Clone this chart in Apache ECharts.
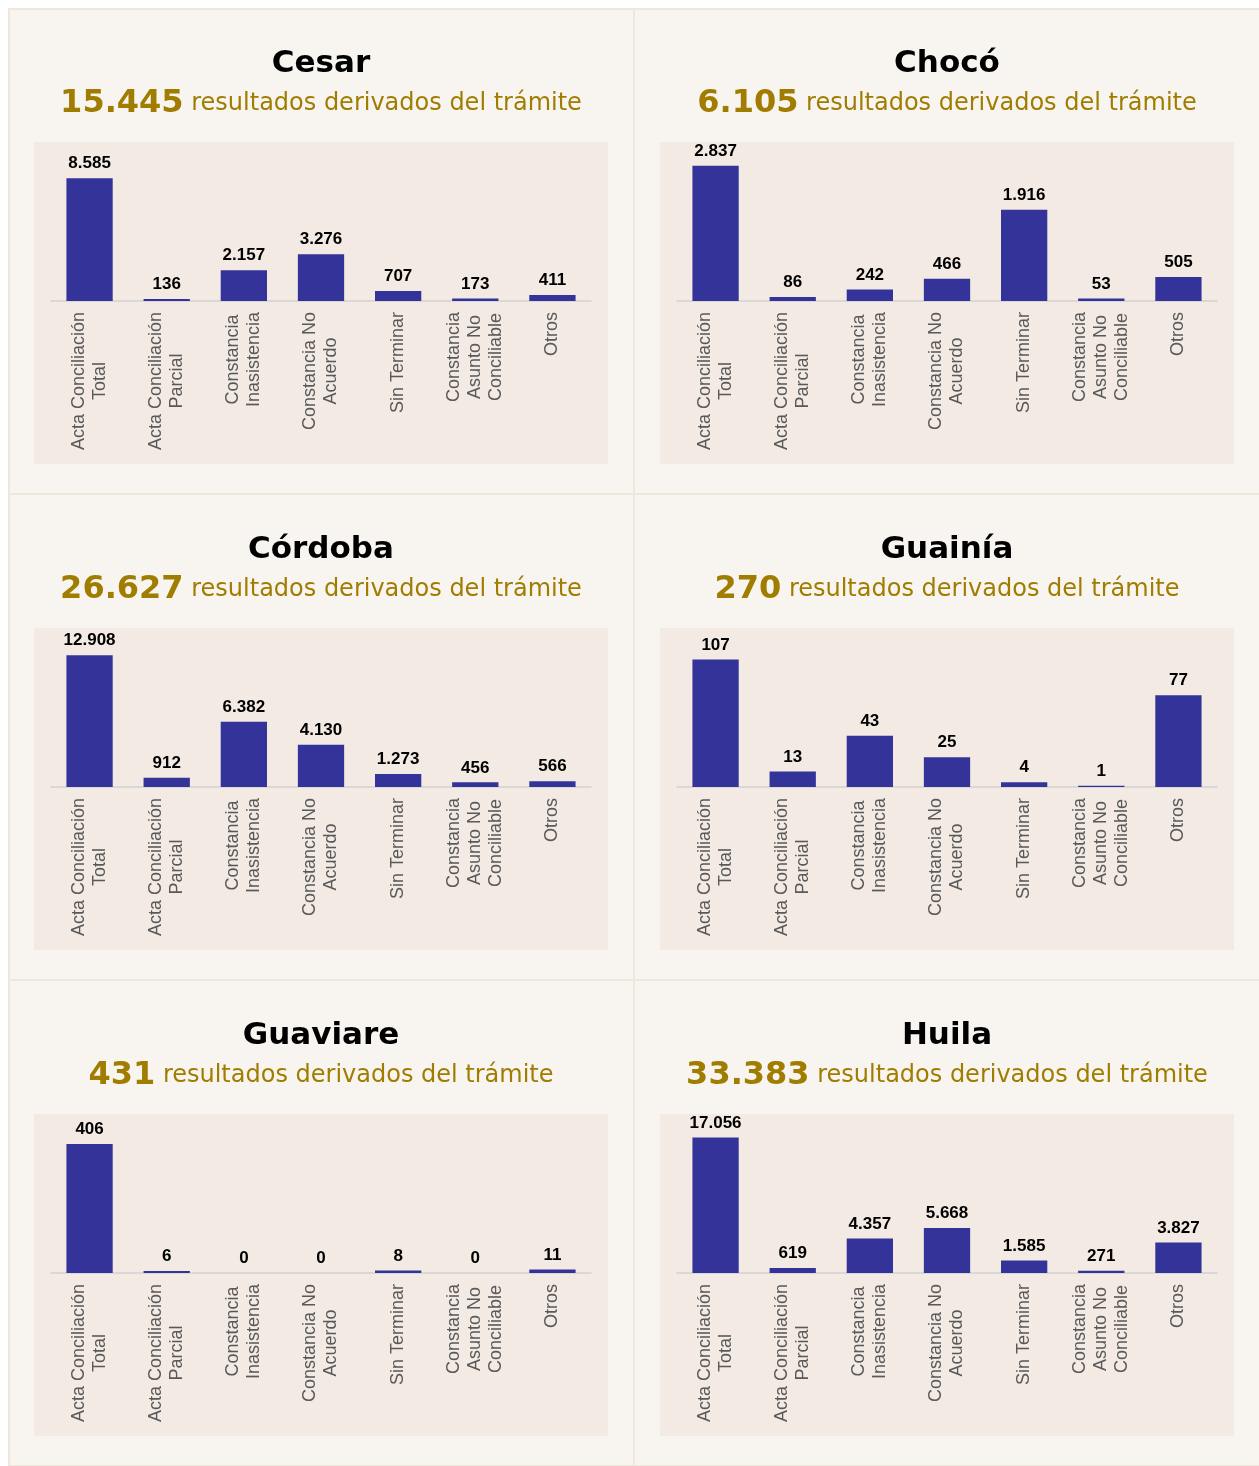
<!DOCTYPE html>
<html>
<head>
<meta charset="utf-8">
<script src="https://cdn.jsdelivr.net/npm/echarts@6/dist/echarts.min.js"></script>
<style>
body{margin:0;background:#fff;}
#page{position:absolute;left:8px;top:8px;width:1251px;height:1458px;background:#f8f5f0;
  border-top:2px solid #efe6dc;border-left:2px solid #efe6dc;box-sizing:border-box;}
.cell{position:absolute;border-right:2px solid #efe6dc;border-bottom:2px solid #efe6dc;box-sizing:border-box;}
.chart{position:absolute;}
</style>
</head>
<body>
<div id="page"></div>
<script>
// categorias comunes a todos los departamentos
const categories = [
    'Acta Conciliación\nTotal',
    'Acta Conciliación\nParcial',
    'Constancia\nInasistencia',
    'Constancia No\nAcuerdo',
    'Sin Terminar',
    'Constancia\nAsunto No\nConciliable',
    'Otros'
];
const departments = ['Cesar', 'Chocó', 'Córdoba', 'Guainía', 'Guaviare', 'Huila'];
const cesar    = [8585, 136, 2157, 3276, 707, 173, 411];
const choco    = [2837, 86, 242, 466, 1916, 53, 505];
const cordoba  = [12908, 912, 6382, 4130, 1273, 456, 566];
const guainia  = [107, 13, 43, 25, 4, 1, 77];
const guaviare = [406, 6, 0, 0, 8, 0, 11];
const huila    = [17056, 619, 4357, 5668, 1585, 271, 3827];
const axisMax  = [10000, 3000, 14000, 120, 450, 18000];

const seriesData = [cesar, choco, cordoba, guainia, guaviare, huila];

const CELL_W = 626, CELL_H = 486;
const page = document.getElementById('page');

function fmt(n){
    return String(n).replace(/\B(?=(\d{3})+(?!\d))/g, '.');
}

function makeChart(idx){
    let col = idx % 2, row = Math.floor(idx / 2);
    let left = 8 + col * CELL_W, top = 8 + row * CELL_H;

    let cell = document.createElement('div');
    cell.className = 'cell';
    cell.style.left = (col * CELL_W - 2) + 'px';
    cell.style.top = (row * CELL_H - 2) + 'px';
    cell.style.width = (CELL_W + (col == 0 ? 1 : 2)) + 'px';
    cell.style.height = (CELL_H + 1) + 'px';
    page.appendChild(cell);

    let dom = document.createElement('div');
    dom.className = 'chart';
    dom.style.left = left + 'px';
    dom.style.top = top + 'px';
    dom.style.width = CELL_W + 'px';
    dom.style.height = CELL_H + 'px';
    document.body.appendChild(dom);

    let data = seriesData[idx];
    let total = data.reduce((a, b) => a + b, 0);
    let myChart = echarts.init(dom, null, {renderer: 'canvas'});

    myChart.setOption({
        animation: false,
        title: [{
            text: departments[idx],
            left: 'center',
            top: 38,
            padding: 0,
            textStyle: {fontFamily: 'DejaVu Sans', fontWeight: 'bold', fontSize: 31, lineHeight: 36, color: '#000'}
        }, {
            text: '{n|' + fmt(total) + '} {t|resultados derivados del trámite}',
            left: 'center',
            top: 76,
            padding: 0,
            textStyle: {
                fontFamily: 'DejaVu Sans', fontWeight: 'normal', fontSize: 24, color: '#a07d00',
                rich: {
                    n: {fontFamily: 'DejaVu Sans', fontWeight: 'bold', fontSize: 32, lineHeight: 40, color: '#a07d00'},
                    t: {fontFamily: 'DejaVu Sans', fontWeight: 'normal', fontSize: 24, lineHeight: 40, color: '#a07d00'}
                }
            }
        }],
        graphic: [{
            type: 'rect',
            left: 26,
            top: 134,
            z: -10,
            shape: {width: 574, height: 322},
            style: {fill: '#f2eae3'}
        }],
        grid: {left: 43, right: 43, top: 150, bottom: 193},
        xAxis: {
            type: 'category',
            data: categories,
            axisTick: {show: false},
            axisLine: {lineStyle: {color: '#d2d2d2', width: 1.5}},
            axisLabel: {
                interval: 0,
                rotate: 90,
                margin: 11,
                formatter: function(v){
                    return v.split('\n').map(s => '{c|' + s + '}').join('\n');
                },
                rich: {
                    c: {align: 'center', fontFamily: 'Liberation Sans', fontSize: 18, lineHeight: 21, color: '#595959'}
                }
            }
        },
        yAxis: {
            type: 'value',
            min: 0,
            max: axisMax[idx],
            show: false
        },
        series: [{
            type: 'bar',
            data: data,
            barWidth: '60%',
            itemStyle: {color: '#333399'},
            label: {
                show: true,
                position: 'top',
                distance: 6,
                fontFamily: 'Liberation Sans',
                fontWeight: 'bold',
                fontSize: 17,
                color: '#000',
                formatter: p => fmt(p.value)
            }
        }]
    });
}

for (let i = 0; i < departments.length; i++){
    makeChart(i);
}
</script>
</body>
</html>
